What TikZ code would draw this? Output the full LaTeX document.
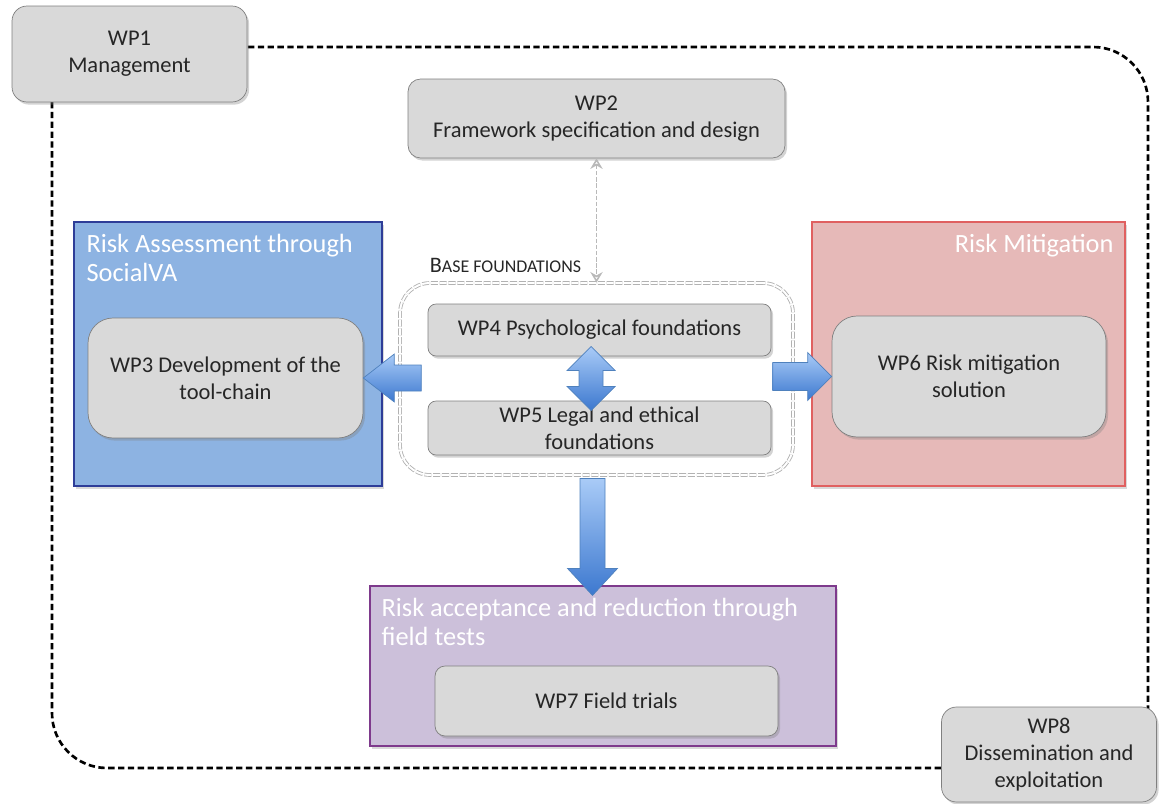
\documentclass[tikz,border=0pt]{standalone}
\usepackage{fontspec}
\setmainfont{Carlito}
\usetikzlibrary{arrows.meta,shadows,calc}
\definecolor{wpgray}{HTML}{D9D9D9}
\definecolor{wpedge}{HTML}{808080}
\definecolor{wptext}{HTML}{262626}
\definecolor{assessfill}{HTML}{8DB3E2}
\definecolor{assessedge}{HTML}{2E3D98}
\definecolor{mitigfill}{HTML}{E6B9B8}
\definecolor{mitigedge}{HTML}{E06060}
\definecolor{acceptfill}{HTML}{CCC0DA}
\definecolor{acceptedge}{HTML}{7E3A8C}
\definecolor{arrowtop}{HTML}{A9CBF7}
\definecolor{arrowbot}{HTML}{3C78CF}
\definecolor{arrowedge}{HTML}{4F81BD}
\begin{document}
\begin{tikzpicture}[x=0.02cm,y=-0.02cm,
	wp/.style={draw=wpedge, fill=wpgray, rounded corners=#1, align=center, text=wptext, inner sep=0pt,
		font=\fontsize{12.8}{15.3}\selectfont,
		drop shadow={shadow xshift=1.2pt, shadow yshift=-1.5pt, opacity=0.35}},
	wp/.default=6pt,
	area/.style={line width=0.9pt, inner sep=0pt,
		drop shadow={shadow xshift=1.2pt, shadow yshift=-1.5pt, opacity=0.3}},
	areatitle/.style={text=white, inner sep=0pt, font=\fontsize{15}{16.2}\selectfont},
	barrow/.style={top color=arrowtop, bottom color=arrowbot, draw=arrowedge, line width=0.4pt},
	frame/.style={draw=black, line width=1.5pt, dash pattern=on 3.6pt off 2pt, rounded corners=1.1cm},
	basebox/.style={draw=gray!60, double=white, double distance=1.1pt, line width=0.5pt,
		dash pattern=on 4pt off 1pt, rounded corners=0.6cm, minimum width=7.86cm, minimum height=3.84cm},
	link/.style={draw=gray!55, line width=0.9pt, dash pattern=on 2.5pt off 1pt,
		{Stealth[open,length=6pt,width=7pt]}-{Stealth[open,length=6pt,width=7pt]}}
	]
	\useasboundingbox (0,0) rectangle (1159,804);
	\draw[frame] (52,47) rectangle (1148,768);

	\node[wp=0.3cm, minimum width=4.7cm, minimum height=1.92cm] (wp1) at (129.5,54) {WP1\\Management};
	\node[wp=0.3cm, minimum width=4.3cm, minimum height=1.9cm] (wp8) at (1049,754.5) {WP8\\Dissemination and\\exploitation};
	\node[wp=0.25cm, minimum width=7.54cm, minimum height=1.58cm] (wp2) at (596.5,118.5) {WP2\\Framework specification and design};

	\node[area, draw=assessedge, fill=assessfill, minimum width=6.16cm, minimum height=5.28cm] (assess) at (228,354) {};
	\node[area, draw=mitigedge, fill=mitigfill, minimum width=6.26cm, minimum height=5.28cm] (mitig) at (968.5,354) {};
	\node[area, draw=acceptedge, fill=acceptfill, minimum width=9.32cm, minimum height=3.2cm] (accept) at (603,666) {};
	\node[areatitle, anchor=north west, align=left] (assesstitle) at ($(assess.north west)+(13,13)$) {Risk Assessment through\\SocialVA};
	\node[areatitle, anchor=north east, align=right] (mitigtitle) at ($(mitig.north east)+(-12,13)$) {Risk Mitigation};
	\node[areatitle, anchor=north west, align=left] (accepttitle) at ($(accept.north west)+(12,13)$) {Risk acceptance and reduction through\\field tests};

	\node[wp=0.5cm, minimum width=5.5cm, minimum height=2.4cm] (wp3) at (225.5,378) {WP3 Development of the\\tool-chain};
	\node[wp=0.5cm, minimum width=5.48cm, minimum height=2.42cm] (wp6) at (969,376.5) {WP6 Risk mitigation\\solution};
	\node[wp=0.2cm, minimum width=6.86cm, minimum height=1.4cm] (wp7) at (606.5,701) {WP7 Field trials};

	\node[basebox] (base) at (596.5,379) {};
	\node[anchor=west, inner sep=0pt, text=wptext, font=\fontsize{12.6}{14}\selectfont] (baselabel) at ($(base.north west)+(30,-17)$)
		{B{\fontsize{10.2}{12}\selectfont ASE FOUNDATIONS}};
	\node[wp=0.16cm, minimum width=6.86cm, minimum height=1.04cm] (wp4) at (599.5,330) {WP4 Psychological foundations};
	\node[wp=0.16cm, minimum width=6.86cm, minimum height=1.08cm] (wp5) at (599.5,428) {WP5 Legal and ethical\\foundations};

	\draw[link] (wp2.south) -- (base.north);

	\shadedraw[barrow] (wp3.east) -- ++(31,-24) -- ++(0,11) -- ++(27,0) -- ++(0,26) -- ++(-27,0) -- ++(0,11) -- cycle;
	\shadedraw[barrow] (wp6.west) -- ++(-24,-24) -- ++(0,10) -- ++(-35,0) -- ++(0,28) -- ++(35,0) -- ++(0,10) -- cycle;
	\shadedraw[barrow] ($(base.south)+(-4,3)$) -- ++(-12.5,0) -- ++(0,90) -- ++(-12.5,0) -- ++(25,27) -- ++(25,-27)
		-- ++(-12.5,0) -- ++(0,-90) -- cycle;
	\coordinate (mid) at ($(wp4.south)!0.5!(wp5.north)+(-8.5,0)$);
	\shadedraw[barrow] ($(mid)+(0,-32)$) -- ++(24,24) -- ++(-12,0) -- ++(0,16) -- ++(12,0) -- ++(-24,24)
		-- ++(-24,-24) -- ++(12,0) -- ++(0,-16) -- ++(-12,0) -- cycle;
\end{tikzpicture}
\end{document}
